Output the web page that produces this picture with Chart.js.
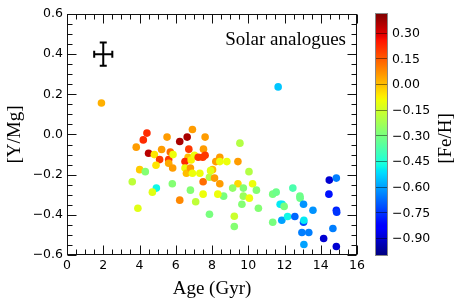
<!DOCTYPE html>
<html><head><meta charset="utf-8">
<script src="https://cdn.jsdelivr.net/npm/chart.js@4.4.1/dist/chart.umd.min.js"></script>
<style>html,body{margin:0;padding:0;background:#fff}#wrap{width:463px;height:304px}</style>
</head><body><div id="wrap"><canvas id="c" width="463" height="304"></canvas></div>
<script>
// ---- data ----
const ages = [1.9, 11.65, 4.41, 4.21, 3.82, 5.52, 6.63, 6.22, 6.92, 7.62, 4.50, 4.82, 5.11, 5.22, 5.70, 5.61, 5.85, 5.61, 4.91, 5.83, 4.01, 4.32, 3.60, 4.93, 4.71, 5.81, 3.91, 6.22, 6.72, 6.68, 6.51, 6.85, 7.03, 7.24, 7.49, 7.53, 6.51, 6.59, 6.81, 6.92, 7.33, 6.81, 7.10, 7.51, 7.51, 7.86, 7.86, 7.62, 8.43, 8.21, 8.43, 8.82, 9.43, 9.54, 10.04, 8.03, 7.92, 8.14, 8.43, 9.43, 10.24, 9.14, 9.73, 10.45, 9.73, 10.06, 9.65, 10.56, 8.64, 8.32, 9.23, 9.23, 11.35, 11.54, 12.46, 12.85, 12.86, 11.76, 11.87, 11.98, 13.05, 13.57, 11.35, 11.85, 12.17, 12.57, 13.05, 13.07, 12.96, 13.34, 13.07, 14.16, 14.86, 14.67, 14.45, 14.47, 14.86, 14.86, 14.88];
const yMg = [0.157, 0.237, 0.007, -0.027, -0.063, -0.013, -0.013, -0.035, 0.025, -0.013, -0.093, -0.10, -0.125, -0.075, -0.087, -0.125, -0.10, -0.143, -0.153, -0.167, -0.175, -0.185, -0.235, -0.267, -0.287, -0.245, -0.367, -0.327, -0.073, -0.113, -0.135, -0.127, -0.103, -0.113, -0.113, -0.073, -0.167, -0.193, -0.167, -0.193, -0.193, -0.277, -0.335, -0.297, -0.235, -0.213, -0.397, -0.103, -0.113, -0.135, -0.135, -0.135, -0.135, -0.043, -0.185, -0.175, -0.18, -0.217, -0.245, -0.245, -0.245, -0.267, -0.267, -0.277, -0.307, -0.317, -0.347, -0.367, -0.307, -0.297, -0.407, -0.458, -0.297, -0.287, -0.267, -0.307, -0.317, -0.347, -0.347, -0.358, -0.347, -0.377, -0.437, -0.427, -0.408, -0.408, -0.437, -0.427, -0.488, -0.488, -0.548, -0.518, -0.558, -0.468, -0.297, -0.227, -0.217, -0.377, -0.387];
const feH = [0.02, -0.55, 0.22, 0.22, 0.05, 0.05, 0.36, 0.36, 0.05, 0.05, 0.34, -0.06, 0.2, 0.05, 0.12, 0.2, -0.1, 0.03, -0.06, 0.05, -0.02, -0.28, -0.18, -0.48, -0.12, -0.28, -0.12, 0.08, 0.2, 0.0, 0.22, -0.08, -0.1, 0.2, 0.2, 0.05, -0.1, 0.0, 0.05, -0.1, -0.1, -0.28, -0.18, -0.1, 0.12, -0.2, -0.3, 0.2, 0.05, 0.05, -0.1, -0.1, 0.05, -0.2, -0.2, 0.0, -0.12, 0.05, 0.05, -0.04, -0.1, -0.26, -0.28, -0.28, -0.24, -0.1, -0.28, -0.28, -0.3, -0.1, -0.16, -0.28, -0.3, -0.32, -0.38, -0.32, -0.32, -0.5, -0.5, -0.3, -0.62, -0.62, -0.3, -0.6, -0.48, -0.68, -0.72, -0.5, -0.65, -0.65, -0.6, -0.9, -0.9, -0.65, -0.8, -0.9, -0.65, -0.78, -0.75];
// representative error bar
const errAge = 2.0, errY = 0.40, errAgeHalf = 0.5, errYHalf = 0.058;
// colour scale
const cbMin = -1.0, cbMax = 0.41;
const cbTicks = [0.30, 0.15, 0.00, -0.15, -0.30, -0.45, -0.60, -0.75, -0.90];
const xMin = 0, xMax = 16, xStep = 2, xMinorStep = 0.5;
const yMin = -0.6, yMax = 0.6, yStep = 0.2, yMinorStep = 0.05;
const label = 'Solar analogues';

// matplotlib jet
function seg(t, pts){
  for (let i=1;i<pts.length;i++){
    if (t<=pts[i][0]){ const [x0,y0]=pts[i-1],[x1,y1]=pts[i]; return y0+(y1-y0)*(t-x0)/(x1-x0); }
  }
  return pts[pts.length-1][1];
}
function jet(t){
  t=Math.max(0,Math.min(1,t));
  const r=seg(t,[[0,0],[0.35,0],[0.66,1],[0.89,1],[1,0.5]]);
  const g=seg(t,[[0,0],[0.125,0],[0.375,1],[0.64,1],[0.91,0],[1,0]]);
  const b=seg(t,[[0,0.5],[0.11,1],[0.34,1],[0.65,0],[1,0]]);
  return `rgb(${Math.round(r*255)},${Math.round(g*255)},${Math.round(b*255)})`;
}
const colorOf = v => jet((v-cbMin)/(cbMax-cbMin));
const minus = s => s.replace('-', '\u2212');

const points = ages.map((a,i)=>({x:a, y:yMg[i]}));
const colors = feH.map(colorOf);

const SERIF = "'Liberation Serif', 'Times New Roman', serif";
const SANS = "'DejaVu Sans', sans-serif";

const framePlugin = {
  id:'frame',
  afterDatasetsDraw(chart){
    const {ctx, chartArea:a, scales} = chart;
    const x = scales.x, y = scales.y, cb = scales.cb;
    ctx.save();
    // error bar
    ctx.strokeStyle='#000'; ctx.lineWidth=2;
    const cx=x.getPixelForValue(errAge), cy=y.getPixelForValue(errY);
    const xl=x.getPixelForValue(errAge-errAgeHalf), xr=x.getPixelForValue(errAge+errAgeHalf);
    const yt=y.getPixelForValue(errY+errYHalf), yb=y.getPixelForValue(errY-errYHalf);
    ctx.beginPath();
    ctx.moveTo(xl,cy); ctx.lineTo(xr,cy);
    ctx.moveTo(cx,yt); ctx.lineTo(cx,yb);
    ctx.moveTo(xl,cy-3.5); ctx.lineTo(xl,cy+3.5);
    ctx.moveTo(xr,cy-3.5); ctx.lineTo(xr,cy+3.5);
    ctx.moveTo(cx-3.5,yt); ctx.lineTo(cx+3.5,yt);
    ctx.moveTo(cx-3.5,yb); ctx.lineTo(cx+3.5,yb);
    ctx.stroke();

    // frame
    ctx.strokeStyle='#111'; ctx.lineWidth=1;
    const L=Math.round(a.left)+0.5, R=Math.round(a.right)-0.5, T=Math.round(a.top)+0.5, B=Math.round(a.bottom)-0.5;
    ctx.strokeRect(L,T,R-L,B-T);
    ctx.beginPath();
    for (let v=xMin; v<=xMax+1e-9; v+=xMinorStep){
      const major = Math.abs(v/xStep-Math.round(v/xStep))<1e-6;
      const len = major?9:5;
      const px=Math.round(x.getPixelForValue(v))+0.5;
      ctx.moveTo(px,B); ctx.lineTo(px,B-len);
      ctx.moveTo(px,T); ctx.lineTo(px,T+len);
    }
    for (let k=0; k<=Math.round((yMax-yMin)/yMinorStep); k++){
      const v=yMin+k*yMinorStep;
      const major = k%Math.round(yStep/yMinorStep)===0;
      const len = major?9:5;
      const py=Math.round(y.getPixelForValue(v))+0.5;
      ctx.moveTo(L,py); ctx.lineTo(L+len,py);
      ctx.moveTo(R,py); ctx.lineTo(R-len,py);
    }
    ctx.stroke();

    // annotation text
    ctx.fillStyle='#000';
    ctx.font=`19px ${SERIF}`;
    ctx.textAlign='right'; ctx.textBaseline='alphabetic';
    ctx.fillText(label, x.getPixelForValue(xMax)-11, y.getPixelForValue(yMax)+31);

    // colour bar
    const cbL=375, cbR=388;
    const top=cb.getPixelForValue(cbMax), bot=cb.getPixelForValue(cbMin);
    const grad=ctx.createLinearGradient(0,bot,0,top);
    for (let i=0;i<=100;i++) grad.addColorStop(i/100, jet(i/100));
    ctx.fillStyle=grad;
    ctx.fillRect(cbL, top-1, cbR-cbL, bot-top+2);
    ctx.strokeStyle='rgba(0,0,0,0.45)'; ctx.lineWidth=1;
    ctx.beginPath();
    cbTicks.forEach(v=>{ const py=Math.round(cb.getPixelForValue(v))+0.5; ctx.moveTo(cbL,py); ctx.lineTo(cbR,py); });
    ctx.stroke();
    ctx.strokeStyle='#888';
    ctx.strokeRect(cbL+0.5, Math.round(top)-0.5, cbR-cbL-1, Math.round(bot)-Math.round(top)+1);
    ctx.fillStyle='#000'; ctx.font=`12.5px ${SANS}`; ctx.textAlign='left'; ctx.textBaseline='middle';
    cbTicks.forEach(v=>{ ctx.fillText(minus(v.toFixed(2)), cbR+4, cb.getPixelForValue(v)+1); });
    ctx.save();
    ctx.translate(446, (top+bot)/2+4); ctx.rotate(-Math.PI/2);
    ctx.font=`19px ${SERIF}`; ctx.textAlign='center'; ctx.textBaseline='middle';
    ctx.fillText('[Fe/H]',0,0);
    ctx.restore();
    ctx.restore();
  }
};

new Chart(document.getElementById('c'), {
  type:'scatter',
  data:{ datasets:[{ data:points, backgroundColor:colors, pointRadius:3.8, pointBorderWidth:0, pointHoverRadius:3.8 }]},
  options:{
    responsive:false, animation:false, devicePixelRatio:1,
    layout:{ padding:{ left:0, right:106, top:14, bottom:0 } },
    plugins:{ legend:{display:false}, tooltip:{enabled:false} },
    scales:{
      x:{ type:'linear', min:xMin, max:xMax,
        grid:{ display:false, drawTicks:false }, border:{display:false},
        ticks:{ stepSize:xStep, padding:3, color:'#000', font:{family:SANS, size:12.5}, maxRotation:0,
          callback:v=>String(v) },
        title:{ display:true, text:'Age (Gyr)', color:'#000', font:{family:SERIF, size:19}, padding:{top:0,bottom:4} },
        afterFit(s){ s.height = 49; }
      },
      y:{ type:'linear', min:yMin, max:yMax,
        grid:{ display:false, drawTicks:false }, border:{display:false},
        ticks:{ stepSize:yStep, padding:4, color:'#000', font:{family:SANS, size:12.5},
          callback:v=>{ if (Math.abs(v)<1e-9) return '0.0'; return minus(v.toFixed(1)); } },
        title:{ display:true, text:'[Y/Mg]', color:'#000', font:{family:SERIF, size:19}, padding:{top:4,bottom:0} },
        afterFit(s){ s.width = 67; }
      },
      cb:{ type:'linear', axis:'y', position:'right', display:false, min:cbMin, max:cbMax }
    }
  },
  plugins:[framePlugin]
});
</script>
</body></html>
